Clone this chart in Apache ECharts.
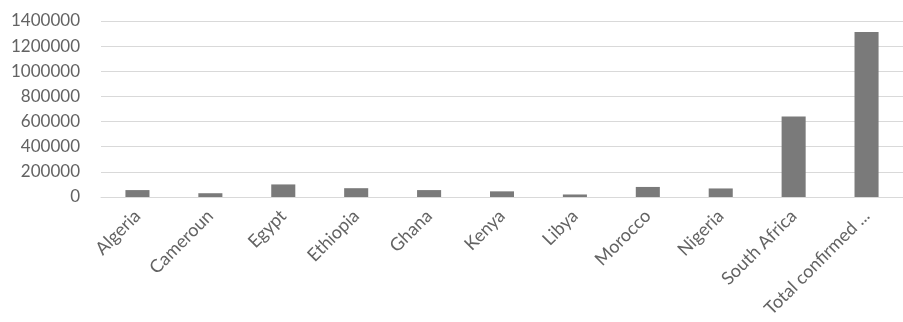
<!DOCTYPE html>
<html>
<head>
<meta charset="utf-8">
<script src="https://cdn.jsdelivr.net/npm/echarts@6/dist/echarts.min.js"></script>
<style>
  html, body { margin: 0; padding: 0; background: #fff; }
  #chart { width: 903px; height: 322px; }
</style>
</head>
<body>
<div id="chart"></div>
<script>
const countries = ["Algeria", "Cameroun", "Egypt", "Ethiopia", "Ghana", "Kenya", "Libya", "Morocco", "Nigeria", "South Africa", "Total confirmed cases"];
const confirmed = [55000, 30000, 100000, 70000, 55000, 45000, 20000, 80000, 68000, 640000, 1312000];
const yTicks = [0, 200000, 400000, 600000, 800000, 1000000, 1200000, 1400000];

const chart = echarts.init(document.getElementById("chart"));

const options = {
  animation: false,
  grid: {
    left: 101,
    right: -9,
    top: 21,
    bottom: 125,
  },
  xAxis: {
    type: "category",
    data: countries,
    axisLine: { lineStyle: { color: "#d9d9d9" } },
    axisTick: { show: false },
    axisLabel: {
      interval: 0,
      rotate: 45,
      margin: 16,
      color: "#636363",
      fontFamily: "Lato",
      fontSize: 18,
      width: 146,
      overflow: "truncate",
      ellipsis: "...",
    },
  },
  yAxis: {
    type: "value",
    min: yTicks[0],
    max: yTicks[yTicks.length - 1],
    interval: 200000,
    axisLine: { show: false },
    axisTick: { show: false },
    splitLine: { lineStyle: { color: "#d9d9d9" } },
    axisLabel: {
      color: "#636363",
      fontFamily: "Lato",
      fontSize: 17,
      margin: 21,
      formatter: (v) => String(v),
    },
  },
  series: [
    {
      name: "Confirmed",
      type: "bar",
      data: confirmed,
      barWidth: "33%",
      itemStyle: { color: "#7a7a7a" },
    },
  ],
};

chart.setOption(options);
</script>
</body>
</html>
